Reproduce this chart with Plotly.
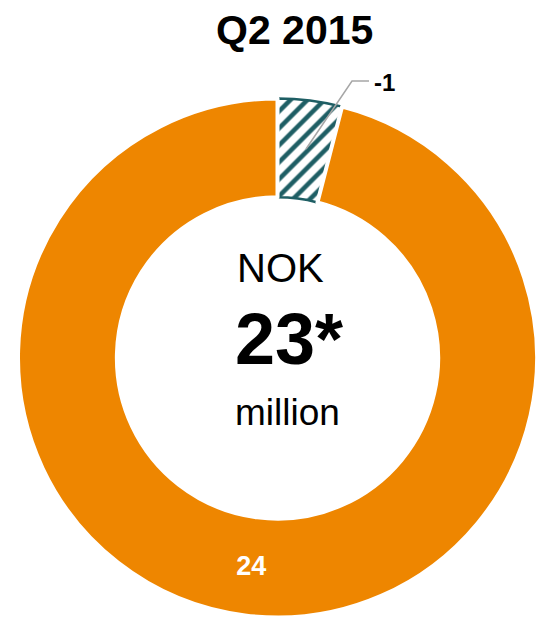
import plotly.graph_objects as go

# Data
categories = ["Negative", "Positive"]
signed_values = [-1, 24]
total_label = "23*"
title_text = "Q2 2015"

W, H = 537, 619
FONT = "Liberation Sans, Arial, sans-serif"
ORANGE = "#EE8600"
TEAL = "#1E5E64"

abs_values = [abs(v) for v in signed_values]
slice_text = ["" if v < 0 else str(v) for v in signed_values]

def px(x):
    return x / W

def py(y):
    return 1 - y / H

fig = go.Figure()
fig.add_trace(go.Pie(
    labels=categories,
    values=abs_values,
    text=slice_text,
    textinfo="text",
    texttemplate="<b>%{text}</b>",
    textposition=["none", "inside"],
    insidetextorientation="horizontal",
    insidetextfont=dict(color="white", size=27, family=FONT),
    sort=False,
    direction="clockwise",
    rotation=0,
    hole=0.619,
    marker=dict(
        colors=["white", ORANGE],
        line=dict(color=[TEAL, "white"], width=[2.5, 4]),
        pattern=dict(shape=["/", ""], fgcolor=[TEAL, ORANGE], bgcolor=["white", ORANGE],
                     size=12, solidity=0.38, fillmode="replace"),
    ),
    domain=dict(x=[18 / W, 1.0], y=[py(617.5), py(98.5)]),
    showlegend=False,
    hoverinfo="label+value",
))

annotations = [
    dict(text="<b>%s</b>" % title_text, x=px(294), y=py(30), xref="paper", yref="paper",
         showarrow=False, font=dict(size=41, color="black", family=FONT), xanchor="center", yanchor="middle"),
    dict(text="NOK", x=px(280), y=py(268), xref="paper", yref="paper",
         showarrow=False, font=dict(size=40, color="black", family=FONT), xanchor="center", yanchor="middle"),
    dict(text="<b>%s</b>" % total_label, x=px(289), y=py(339), xref="paper", yref="paper",
         showarrow=False, font=dict(size=72, color="black", family=FONT), xanchor="center", yanchor="middle"),
    dict(text="million", x=px(287), y=py(413), xref="paper", yref="paper",
         showarrow=False, font=dict(size=37, color="black", family=FONT), xanchor="center", yanchor="middle"),
    dict(text="<b>%d</b>" % signed_values[0], x=px(372), y=py(83), xref="paper", yref="paper",
         showarrow=False, font=dict(size=24, color="black", family=FONT), xanchor="left", yanchor="middle"),
]

fig.add_shape(type="path", xref="paper", yref="paper",
              path="M %f %f L %f %f L %f %f" % (px(369), py(81), px(352), py(81), px(306), py(149)),
              line=dict(color="#A6A6A6", width=1.5))

fig.update_layout(
    width=W, height=H,
    margin=dict(l=0, r=0, t=0, b=0),
    paper_bgcolor="white",
    plot_bgcolor="white",
    annotations=annotations,
)

fig.write_html(
    "out.html",
    config={"displayModeBar": False},
    post_script=(
        "document.body.style.margin='0';"
        "document.body.style.overflow='hidden';"
        "document.documentElement.style.overflow='hidden';"
    ),
)
